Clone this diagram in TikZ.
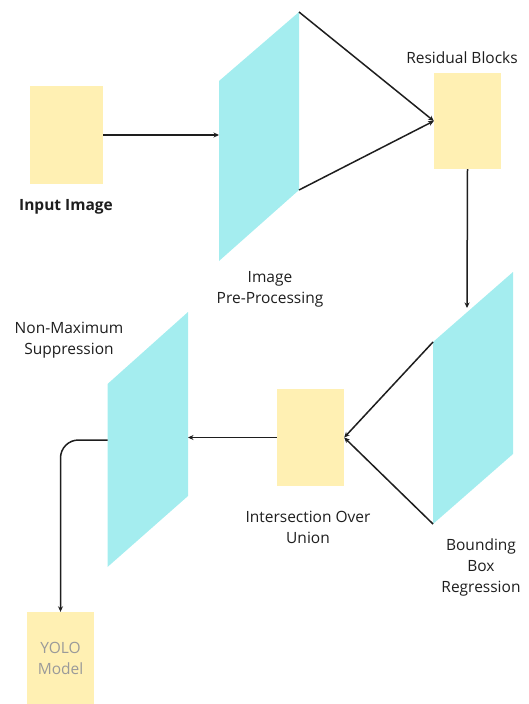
\documentclass[tikz,border=0pt]{standalone}
\usepackage{fontspec}
\setmainfont{Open Sans}
\usetikzlibrary{arrows.meta}
\definecolor{boxyellow}{HTML}{FFF0B3}
\definecolor{sheetcyan}{HTML}{A4EDEF}
\definecolor{ink}{HTML}{1E1E1E}
\definecolor{fadedtext}{HTML}{9A9A9A}
\begin{document}
\begin{tikzpicture}[x=1pt,y=-1pt,
  block/.style={fill=boxyellow, inner sep=0pt, minimum width=67pt, minimum height=97pt},
  sheet/.style={fill=sheetcyan},
  flow/.style={draw=ink, line width=1.5pt, -{Stealth[length=5.5pt,width=5pt]}},
  txt/.style={font=\fontsize{15.5}{21}\selectfont},
  caption/.style={txt, text=ink, align=center, inner sep=0pt}]
\useasboundingbox (0,0) rectangle (529,704);

% yellow blocks
\node[block, minimum width=73pt, minimum height=98pt] (input) at (66.5,135) {};
\node[block, minimum height=96pt] (resid) at (467.5,121) {};
\node[block] (iou) at (310.5,437.5) {};
\node[block, minimum height=93pt, txt, text=fadedtext, align=center] (yolo) at (60.5,658.5) {YOLO\\Model};

% cyan slanted sheets
\coordinate (preTL) at (219,81);   \coordinate (preTR) at (299,12);
\coordinate (preBR) at (299,190);  \coordinate (preBL) at (219,261);
\coordinate (preIn) at (219,135);
\fill[sheet] (preTL) -- (preTR) -- (preBR) -- (preBL) -- cycle;

\coordinate (bbTL) at (433,342);   \coordinate (bbTR) at (513,272);
\coordinate (bbBR) at (513,454);   \coordinate (bbBL) at (433,524);
\coordinate (bbIn) at (467,308);
\fill[sheet] (bbTL) -- (bbTR) -- (bbBR) -- (bbBL) -- cycle;

\coordinate (nmTL) at (107.5,384); \coordinate (nmTR) at (188,312);
\coordinate (nmBR) at (188,496);   \coordinate (nmBL) at (107.5,567);
\coordinate (nmIn) at (188,437.5); \coordinate (nmOut) at (107.5,440);
\fill[sheet] (nmTL) -- (nmTR) -- (nmBR) -- (nmBL) -- cycle;

% connectors
\draw[flow] (input.east) -- (preIn);
\draw[flow] (preTR) -- (resid.west);
\draw[flow] (preBR) -- (resid.west);
\draw[flow] (resid.south) -- (bbIn);
\draw[flow] (bbTL) -- (iou.east);
\draw[flow] (bbBL) -- (iou.east);
\draw[flow] (iou.west) -- (nmIn);
\draw[flow, rounded corners=18pt] (nmOut) -| (yolo.north);

% captions
\node[caption, font=\fontsize{15.5}{21}\bfseries\selectfont] (inputlbl) at (66,207) {Input Image};
\node[caption] (prelbl) at (270,289) {Image\\Pre-Processing};
\node[caption] (residlbl) at (462,58) {Residual Blocks};
\node[caption] (nmlbl) at (69,340) {Non-Maximum\\Suppression};
\node[caption] (ioulbl) at (308,527) {Intersection Over\\Union};
\node[caption] (bblbl) at (481,567) {Bounding\\Box\\Regression};
\end{tikzpicture}
\end{document}
